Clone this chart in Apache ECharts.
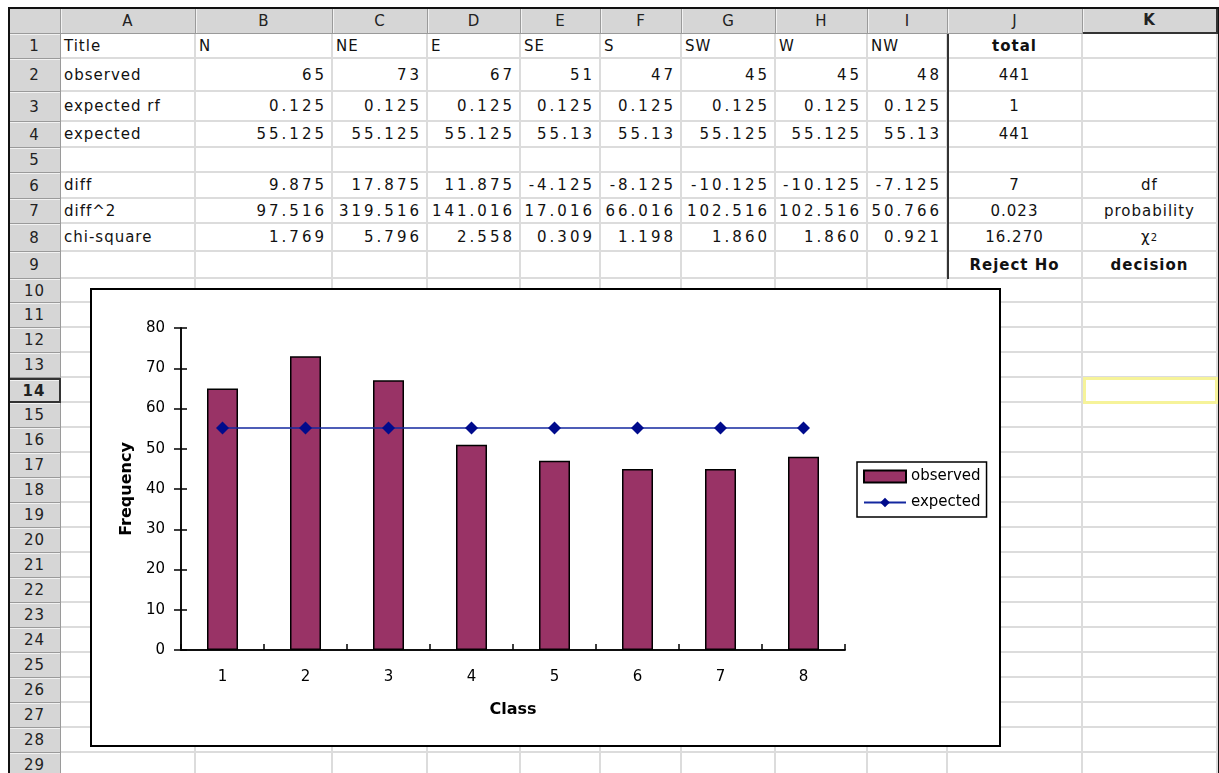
<!DOCTYPE html>
<html>
<head>
<meta charset="utf-8">
<title>Chi-square goodness of fit</title>
<script src="https://cdn.jsdelivr.net/npm/echarts@6/dist/echarts.min.js"></script>
<style>
  body { margin: 0; background: #fff; width: 1219px; height: 773px; overflow: hidden; position: relative; }
  .cell {
    position: absolute; box-sizing: border-box; overflow: visible; white-space: nowrap;
    border-right: 2px solid #dcdcdc; border-bottom: 2px solid #dcdcdc;
    font-family: "DejaVu Sans", sans-serif; font-size: 15px; color: #111;
    display: flex; align-items: center; letter-spacing: 1px;
  }
  .hdr {
    background: #d6d6d6; border-right: 1px solid #9a9a9a; border-bottom: 1px solid #9a9a9a;
    box-shadow: inset 1px 1px 0 #f2f2f2; justify-content: center; color: #222;
  }
  .num { justify-content: flex-end; padding-right: 4px; letter-spacing: 3px; }
  .txt { justify-content: flex-start; padding-left: 3px; }
  .mid { justify-content: center; }
  .bold { font-weight: bold; }
  #frame { position: absolute; left: 8px; top: 7px; width: 1212px; height: 790px; border: 2px solid #111; box-sizing: border-box; pointer-events: none; }
  #chartBox { position: absolute; left: 90px; top: 288px; width: 911px; height: 459px; border: 2px solid #000; box-sizing: border-box; background: #fff; }
  #chart { width: 907px; height: 455px; }
</style>
</head>
<body>
<div id="sheet"></div>
<div id="frame"></div>
<div id="chartBox"><div id="chart"></div></div>
<script>
// worksheet contents
var colLetters = ["A", "B", "C", "D", "E", "F", "G", "H", "I", "J", "K"];
var rowTitles = ["Title", "observed", "expected rf", "expected", "", "diff", "diff^2", "chi-square", ""];
var directions = ["N", "NE", "E", "SE", "S", "SW", "W", "NW"];
var observedRow = ["65", "73", "67", "51", "47", "45", "45", "48"];
var expectedRfRow = ["0.125", "0.125", "0.125", "0.125", "0.125", "0.125", "0.125", "0.125"];
var expectedRow = ["55.125", "55.125", "55.125", "55.13", "55.13", "55.125", "55.125", "55.13"];
var diffRow = ["9.875", "17.875", "11.875", "-4.125", "-8.125", "-10.125", "-10.125", "-7.125"];
var diffSqRow = ["97.516", "319.516", "141.016", "17.016", "66.016", "102.516", "102.516", "50.766"];
var chiSqRow = ["1.769", "5.796", "2.558", "0.309", "1.198", "1.860", "1.860", "0.921"];
var totalCol = ["total", "441", "1", "441", "", "7", "0.023", "16.270", "Reject Ho"];
var labelCol = ["", "", "", "", "", "df", "probability", "χ<sup style='font-size:10px'>2</sup>", "decision"];

// chart data
var classes = ["1", "2", "3", "4", "5", "6", "7", "8"];
var observedFreq = [65, 73, 67, 51, 47, 45, 45, 48];
var expectedFreq = [55.125, 55.125, 55.125, 55.125, 55.125, 55.125, 55.125, 55.125];

var colEdges = [9, 61, 196, 333, 428, 521, 601, 682, 776, 868, 948, 1083, 1218];
var rowEdges = [8, 34, 59, 92, 122, 148, 173, 199, 224, 252, 279, 303, 328, 353, 378, 403,
  428, 453, 478, 503, 528, 553, 578, 603, 628, 653, 678, 703, 728, 753, 778];

var sheet = document.getElementById("sheet");
function addCell(c, r, cls, html) {
  var d = document.createElement("div");
  d.className = "cell " + cls;
  d.style.left = colEdges[c] + "px";
  d.style.top = rowEdges[r] + "px";
  d.style.width = (colEdges[c + 1] - colEdges[c]) + "px";
  d.style.height = (rowEdges[r + 1] - rowEdges[r]) + "px";
  if (html) d.innerHTML = html;
  sheet.appendChild(d);
  return d;
}

var dataRows = [directions, observedRow, expectedRfRow, expectedRow, null, diffRow, diffSqRow, chiSqRow, null];

for (var r = 0; r < rowEdges.length - 1; r++) {
  for (var c = 0; c < colEdges.length - 1; c++) {
    if (r === 0 && c === 0) { addCell(0, 0, "hdr", ""); continue; }
    if (r === 0) {
      var h = addCell(c, 0, "hdr" + (c === 11 ? " bold" : ""), colLetters[c - 1]);
      if (c === 11) { h.style.borderBottom = "2px solid #333"; h.style.borderRight = "2px solid #333"; }
      continue;
    }
    if (c === 0) {
      var rh = addCell(0, r, "hdr" + (r === 14 ? " bold" : ""), String(r));
      if (r === 14) { rh.style.border = "2px solid #333"; rh.style.borderLeft = "none"; }
      continue;
    }
    var row = r - 1;
    if (row < 9) {
      if (c === 1) addCell(c, r, "txt", rowTitles[row]);
      else if (c <= 9) {
        var vals = dataRows[row];
        if (row === 0) addCell(c, r, "txt", vals ? vals[c - 2] : "");
        else addCell(c, r, "num", vals ? vals[c - 2] : "");
      } else if (c === 10) addCell(c, r, "mid" + (row === 0 || row === 8 ? " bold" : ""), totalCol[row]);
      else addCell(c, r, "mid" + (row === 8 ? " bold" : ""), labelCol[row]);
    } else {
      addCell(c, r, "", "");
    }
  }
}

// thick rule left of column J, rows 1-9
var rule = document.createElement("div");
rule.style.cssText = "position:absolute;left:947px;top:34px;width:2px;height:245px;background:#333;";
sheet.appendChild(rule);

// selected cell K14
var sel = document.createElement("div");
sel.style.cssText = "position:absolute;left:1083px;top:377px;width:135px;height:27px;box-sizing:border-box;border:3px solid #f6f39a;";
sheet.appendChild(sel);

var chart = echarts.init(document.getElementById("chart"));
var axisColor = "#000";
chart.setOption({
  animation: false,
  textStyle: { fontFamily: "DejaVu Sans", color: "#000" },
  grid: { left: 89, top: 38, width: 664, height: 322 },
  legend: {
    orient: "vertical",
    left: 765,
    top: 172,
    padding: [7, 6, 7, 6],
    borderColor: "#000",
    borderWidth: 1.5,
    itemGap: 11,
    itemWidth: 42,
    itemHeight: 12,
    textStyle: { fontSize: 15, color: "#000" },
    data: [{ name: "observed", icon: "rect" }, { name: "expected" }],
  },
  xAxis: [
    {
      type: "category",
      data: classes,
      axisLine: { lineStyle: { color: axisColor, width: 1.5 } },
      axisTick: { length: 7, lineStyle: { color: axisColor, width: 1.5 } },
      axisLabel: { color: "#000", fontSize: 15, margin: 20 },
      name: "Class",
      nameLocation: "middle",
      nameGap: 52,
      nameTextStyle: { fontWeight: "bold", fontSize: 16, color: "#000" },
    },
    {
      // inner half of the crossing ticks
      type: "category",
      data: classes,
      position: "bottom",
      offset: 0,
      axisLine: { show: true, onZero: false, lineStyle: { color: axisColor, width: 1.5 } },
      axisTick: { show: true, inside: true, length: 6, lineStyle: { color: axisColor, width: 1.5 } },
      axisLabel: { show: false },
    },
  ],
  yAxis: [
    {
      type: "value",
      min: 0,
      max: 80,
      interval: 10,
      splitLine: { show: false },
      axisLine: { show: true, lineStyle: { color: axisColor, width: 1.5 } },
      axisTick: { show: true, length: 7, lineStyle: { color: axisColor, width: 1.5 } },
      axisLabel: { color: "#000", fontSize: 15, margin: 16 },
      name: "Frequency",
      nameLocation: "middle",
      nameGap: 46,
      nameRotate: 90,
      nameTextStyle: { fontWeight: "bold", fontSize: 16, color: "#000" },
    },
    {
      type: "value",
      min: 0,
      max: 80,
      interval: 10,
      position: "left",
      offset: 0,
      splitLine: { show: false },
      axisLine: { show: true, onZero: false, lineStyle: { color: axisColor, width: 1.5 } },
      axisTick: { show: true, inside: true, length: 6, lineStyle: { color: axisColor, width: 1.5 } },
      axisLabel: { show: false },
    },
  ],
  series: [
    {
      name: "observed",
      type: "bar",
      data: observedFreq,
      barWidth: 31,
      itemStyle: { color: "#993366", borderColor: "#000", borderWidth: 1.5 },
    },
    {
      name: "expected",
      type: "line",
      data: expectedFreq,
      symbol: "diamond",
      symbolSize: 13,
      lineStyle: { color: "#1428a0", width: 1.5 },
      itemStyle: { color: "#000b8c" },
    },
    {
      // empty series so the tick-only axes get laid out
      type: "line",
      xAxisIndex: 1,
      yAxisIndex: 1,
      data: [],
      silent: true,
    },
  ],
});
</script>
</body>
</html>
